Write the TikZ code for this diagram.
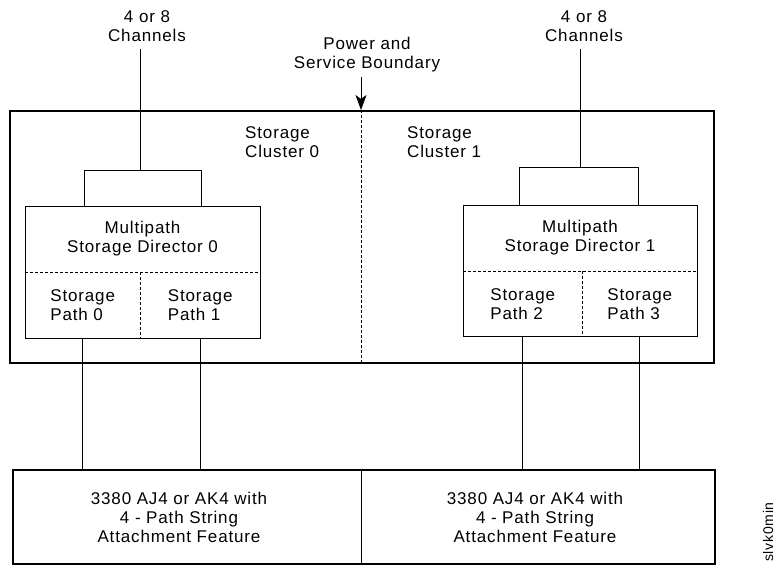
\documentclass[tikz,border=0pt]{standalone}
\usepackage{fontspec}
\setmainfont[LetterSpace=5]{Liberation Sans}
\usetikzlibrary{arrows.meta,positioning}
\tikzstyle{frame} = [draw, line width=1.6pt, inner sep=0pt, anchor=north west]
\tikzstyle{box} = [draw, line width=0.7pt, inner sep=0pt, anchor=north west]
\tikzstyle{cell} = [inner sep=0pt, anchor=north west, align=left]
\tikzstyle{txt} = [inner sep=0pt, align=center]
\tikzstyle{wire} = [line width=0.7pt]
\tikzstyle{sep} = [line width=0.6pt, dash pattern=on 3pt off 2pt]

\begin{document}
\begin{tikzpicture}[x=1pt, y=-1pt, font=\fontsize{17}{19}\selectfont]
\useasboundingbox (0,0) rectangle (775,565);
% storage control unit and string
\node[frame, minimum width=704, minimum height=252] (unit) at (9,110) {};
\node[frame, minimum width=702, minimum height=94] (str) at (12,469) {};
\coordinate (bound) at (361,110);
% directors
\node[box, minimum width=235, minimum height=132] (dir0) at (25,206) {};
\node[box, minimum width=234, minimum height=131] (dir1) at (463,205) {};
\node[txt] (dir0t) at (142.5,239) {Multipath\\Storage Director 0};
\node[txt] (dir1t) at (580,238) {Multipath\\Storage Director 1};
\node[cell, minimum width=115, minimum height=66] (p0) at (25,272) {Storage\\Path 0};
\node[cell, minimum width=120, minimum height=66] (p1) at (140,272) {Storage\\Path 1};
\node[cell, minimum width=119, minimum height=65] (p2) at (463,271) {Storage\\Path 2};
\node[cell, minimum width=115, minimum height=65] (p3) at (582,271) {Storage\\Path 3};
\draw[sep] (p0.north west) -- (p1.north east);
\draw[sep] (p0.north east) -- (p0.south east);
\draw[sep] (p2.north west) -- (p3.north east);
\draw[sep] (p2.north east) -- (p2.south east);
% labels
\node[txt] (ch0) at (147,26.5) {4 or 8\\Channels};
\node[txt] (ch1) at (584,26.5) {4 or 8\\Channels};
\node[txt] (psb) at (367,54.5) {Power and\\Service Boundary};
\node[txt, align=left, anchor=west] (cl0) at (245,142.5) {Storage\\Cluster 0};
\node[txt, align=left, anchor=west] (cl1) at (407,142.5) {Storage\\Cluster 1};
\node[txt] (s0) at (179,517) {3380 AJ4 or AK4 with\\4 - Path String\\Attachment Feature};
\node[txt] (s1) at (535,517) {3380 AJ4 or AK4 with\\4 - Path String\\Attachment Feature};
\node[txt, rotate=90, font=\fontsize{14}{16}\selectfont] (fig) at (768,532) {slvk0min};
% channels
\coordinate (hub0) at (140,170);
\coordinate (hub1) at (580,167);
\draw[wire] (84,206) |- (201,170) -- (201,206);
\draw[wire] (519,205) |- (638,167) -- (638,205);
\draw[wire] (ch0.south -| hub0) ++(0,7) -- (hub0);
\draw[wire] (ch1.south -| hub1) ++(0,7) -- (hub1);
% boundary
\draw[wire, -{Stealth[length=15pt,width=11pt,inset=4pt]}] (psb.south -| bound) ++(0,5) -- (bound);
\draw[sep] (bound) -- (bound |- unit.south);
\draw[wire] (str.north -| bound) -- (str.south -| bound);
% paths to string
\foreach \p in {p0,p1,p2,p3}
  \draw[wire] (\p.south) -- (\p.south |- str.north);
\end{tikzpicture}
\end{document}
